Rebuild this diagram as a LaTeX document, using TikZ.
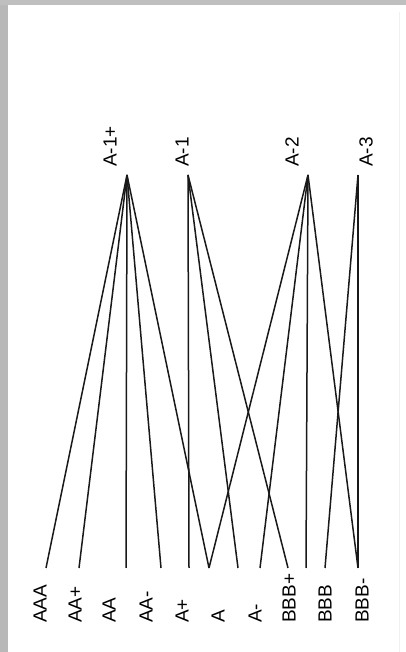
\documentclass[tikz,border=0pt]{standalone}
\usepackage{fontspec}
\setmainfont{Liberation Sans}
\begin{document}
\begin{tikzpicture}[x=1pt,y=1pt,
  lab/.style={rotate=90,anchor=west,inner sep=0pt,font=\fontsize{19}{19}\selectfont,text=black},
  edge/.style={draw=black!90,line width=1.5pt}]
\useasboundingbox (0,0) rectangle (406,652);
\fill[white] (0,0) rectangle (406,652);
\fill[black!28] (0,0) rectangle (8,652);
\fill[black!25] (0,647) rectangle (406,652);
\draw[black!6,line width=1pt] (399,0) -- (399,640);
% top labels
\node[lab] (tA1p) at (110,485) {A-1+};
\node[lab] (tA1)  at (182,485) {A-1};
\node[lab] (tA2)  at (292,485) {A-2};
\node[lab] (tA3)  at (366,485) {A-3};
% bottom labels
\node[lab] (bAAA)  at (40,29)  {AAA};
\node[lab] (bAAp)  at (75,29)  {AA+};
\node[lab] (bAA)   at (109,29) {AA};
\node[lab] (bAAm)  at (146,29) {AA-};
\node[lab] (bAp)   at (182,29) {A+};
\node[lab] (bA)    at (218,29) {A};
\node[lab] (bAm)   at (255,29) {A-};
\node[lab] (bBBBp) at (289,29) {BBB+};
\node[lab] (bBBB)  at (325,29) {BBB};
\node[lab] (bBBBm) at (362,29) {BBB-};
% top end points
\coordinate (p1) at (127,477);
\coordinate (p2) at (188,477);
\coordinate (p3) at (308,477);
\coordinate (p4) at (358,477);
% bottom end points
\coordinate (q1)  at (46,84);
\coordinate (q2)  at (79,84);
\coordinate (q3)  at (126,84);
\coordinate (q4)  at (161,84);
\coordinate (q5)  at (189,84);
\coordinate (q6)  at (209,84);
\coordinate (q7)  at (238,84);
\coordinate (q8)  at (260,84);
\coordinate (q9)  at (288,84);
\coordinate (q10) at (306,84);
\coordinate (q11) at (325,84);
\coordinate (q12) at (358,84);
% edges
\foreach \b in {q1,q2,q3,q4,q6} \draw[edge] (p1) -- (\b);
\foreach \b in {q5,q7,q9} \draw[edge] (p2) -- (\b);
\foreach \b in {q6,q8,q10,q12} \draw[edge] (p3) -- (\b);
\foreach \b in {q11,q12} \draw[edge] (p4) -- (\b);
\end{tikzpicture}
\end{document}
